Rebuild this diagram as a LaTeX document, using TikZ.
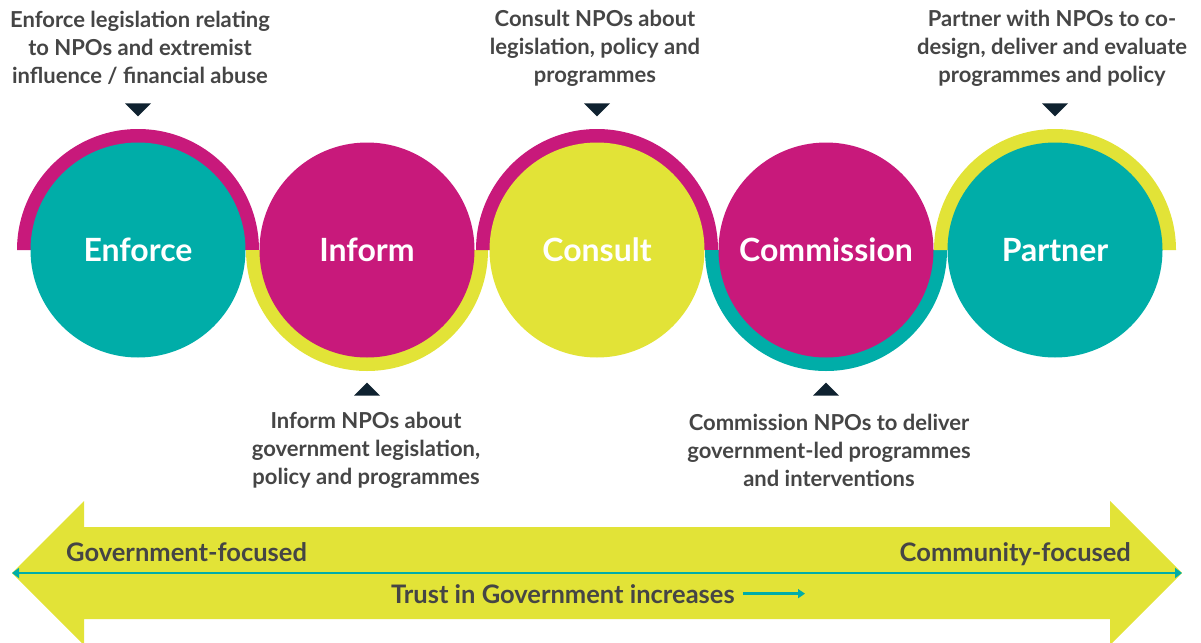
\documentclass[tikz,border=0pt]{standalone}
\usepackage{fontspec}
\setmainfont{Lato}
\usetikzlibrary{calc,arrows.meta}

\definecolor{npoteal}{HTML}{00ADA8}
\definecolor{npomag}{HTML}{C8197B}
\definecolor{npolime}{HTML}{E2E337}
\definecolor{npoink}{HTML}{0F2230}
\definecolor{npogrey}{HTML}{454545}

\begin{document}
\begin{tikzpicture}[x=1pt, y=1pt,
  stage/.style={circle, inner sep=0pt, minimum size=215pt, text=white,
    font=\fontsize{32}{32}\selectfont\bfseries},
  note/.style={align=center, text=npogrey, inner sep=0pt,
    font=\fontsize{22}{28}\selectfont\bfseries},
  bandlabel/.style={text=npogrey, inner sep=0pt,
    font=\fontsize{25.5}{25.5}\selectfont\bfseries},
  pointer/.style={fill=npoink}]
    \useasboundingbox (0,0) rectangle (1201,-642);

    % Stages with their half rings
    \foreach \n/\x/\lab/\core/\ring/\a in {enforce/138/Enforce/npoteal/npomag/0,
        inform/367/Inform/npomag/npolime/180,
        consult/597/Consult/npolime/npomag/0,
        commission/826/Commission/npomag/npoteal/180,
        partner/1055/Partner/npoteal/npolime/0} {
      \fill[\ring] (\x,-250) ++(\a:121) arc[start angle=\a, delta angle=180, radius=121] -- cycle;
      \node[stage, fill=\core] (\n) at (\x,-250) {\lab};
    }

    % Pointers
    \foreach \n in {enforce, consult, partner} {
      \fill[pointer] ($(\n.north)+(-13,39)$) -- ++(26,0) -- ++(-13,-13) -- cycle;
    }
    \foreach \n in {inform, commission} {
      \fill[pointer] ($(\n.south)+(-13,-38)$) -- ++(26,0) -- ++(-13,13) -- cycle;
    }

    % Notes above
    \node[note] (enforce-note) at ($(enforce)+(2,202)$)
      {Enforce legislation relating\\to NPOs and extremist\\influence / financial abuse};
    \node[note] (consult-note) at ($(consult)+(-2,202)$)
      {Consult NPOs about\\legislation, policy and\\programmes};
    \node[note] (partner-note) at ($(partner)+(-3,202)$)
      {Partner with NPOs to co-\\design, deliver and evaluate\\programmes and policy};

    % Notes below
    \node[note] (inform-note) at ($(inform)+(-1,-200)$)
      {Inform NPOs about\\government legislation,\\policy and programmes};
    \node[note] (commission-note) at ($(commission)+(3,-200)$)
      {Commission NPOs to deliver\\government-led programmes\\and interventions};

    % Band
    \coordinate (band-w) at (12,-573);
    \coordinate (band-e) at (1182,-573);
    \fill[npolime] (band-w) -- ++(72,72) -- ++(0,-26) -- (1110,-527) -- ++(0,26)
      -- (band-e) -- ++(-72,-72) -- ++(0,26) -- (84,-619) -- ++(0,-26) -- cycle;
    \draw[npoteal, line width=2.5pt, {Triangle[width=10pt,length=7pt]}-{Triangle[width=10pt,length=7pt]}]
      (band-w) -- (band-e);
    \node[bandlabel, anchor=base west] (gov) at (66,-561) {Government-focused};
    \node[bandlabel, anchor=base east] (com) at (1131,-561) {Community-focused};
    \node[bandlabel, anchor=base west] (trust) at (391,-603) {Trust in Government increases};
    \coordinate (trust-end) at (805,-596);
    \draw[npoteal, line width=2.5pt, -{Triangle[width=9pt,length=7pt]}]
      ([xshift=8pt]trust.east) -- (trust-end |- trust.east);
\end{tikzpicture}
\end{document}
